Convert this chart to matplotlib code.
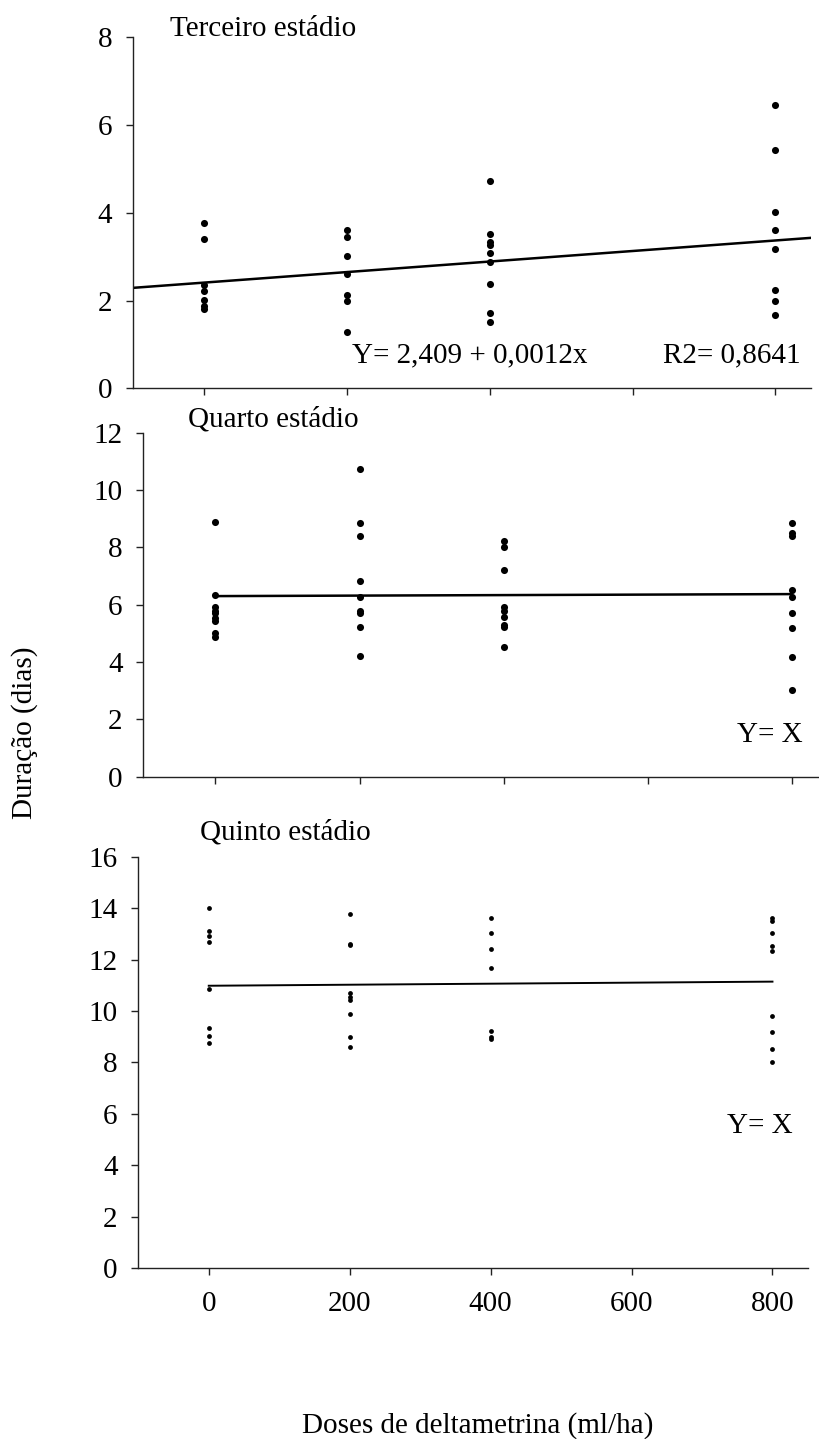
import matplotlib
matplotlib.use("Agg")
import matplotlib.pyplot as plt

plt.rcParams['font.family'] = ['Liberation Serif', 'DejaVu Serif']

# ---------------- data ----------------
doses = [0, 200, 400, 800]
x_ticks = [0, 200, 400, 600, 800]

terceiro = {
    0: [3.76, 3.41, 2.36, 2.22, 2.01, 1.88, 1.80],
    200: [3.61, 3.45, 3.01, 2.60, 2.12, 2.00, 1.28],
    400: [4.73, 3.51, 3.34, 3.27, 3.09, 2.89, 2.38, 1.71, 1.50],
    800: [6.45, 5.43, 4.01, 3.61, 3.18, 2.25, 2.00, 1.67],
}
terceiro_intercept = 2.409
terceiro_slope = 0.0012

quarto = {
    0: [8.88, 6.35, 5.91, 5.79, 5.72, 5.52, 5.44, 5.03, 4.88],
    200: [10.72, 8.84, 8.41, 6.84, 6.26, 5.79, 5.70, 5.22, 4.21],
    400: [8.22, 8.01, 7.21, 5.91, 5.79, 5.56, 5.28, 5.21, 4.51],
    800: [8.84, 8.51, 8.41, 6.51, 6.26, 5.71, 5.19, 4.19, 3.02],
}
quarto_line_x = [0, 800]
quarto_line_y = [6.30, 6.37]

quinto = {
    0: [14.02, 13.12, 12.91, 12.67, 10.84, 9.32, 9.02, 8.75],
    200: [13.78, 12.60, 12.55, 10.68, 10.53, 10.41, 9.89, 9.00, 8.61],
    400: [13.61, 13.02, 12.42, 11.66, 9.22, 9.00, 8.89],
    800: [13.60, 13.51, 13.02, 12.53, 12.34, 9.82, 9.17, 8.52, 8.01],
}
quinto_line_x = [0, 800]
quinto_line_y = [10.98, 11.14]

titles = ["Terceiro estádio", "Quarto estádio", "Quinto estádio"]
eq_text = "Y= 2,409 + 0,0012x"
r2_text = "R2= 0,8641"
yx_text = "Y= X"
ylabel = "Duração (dias)"
xlabel = "Doses de deltametrina (ml/ha)"

# ---------------- figure ----------------
W, H = 819, 1439
fig = plt.figure(figsize=(W / 100, H / 100), dpi=100)
FS = 21


def make_axes(l, r, t, b):
    return fig.add_axes([l / W, 1 - b / H, (r - l) / W, (b - t) / H])


def style(ax, ymax, show_xlabels):
    for s in ['top', 'right']:
        ax.spines[s].set_visible(False)
    for s in ['left', 'bottom']:
        ax.spines[s].set_linewidth(1.0)
        ax.spines[s].set_color('#222222')
    ax.set_xlim(-100, 850)
    ax.set_ylim(0, ymax)
    ax.set_xticks(x_ticks)
    ax.set_yticks(list(range(0, ymax + 1, 2)))
    ax.tick_params(axis='both', direction='out', length=4.8, width=1.0,
                   color='#222222', labelsize=FS)
    ax.tick_params(axis='y', pad=10)
    ax.tick_params(axis='x', pad=12)
    if not show_xlabels:
        ax.set_xticklabels([])
    ax.patch.set_visible(False)


def scatter_group(ax, groups, size):
    for d in doses:
        ys = groups[d]
        ax.scatter([d] * len(ys), ys, s=size, color='black', zorder=3,
                   linewidths=0, clip_on=False)


# Top panel
ax1 = make_axes(132.7, 811, 37.3, 388.3)
style(ax1, 8, False)
scatter_group(ax1, terceiro, 26)
xl = ax1.get_xlim()
ax1.plot(list(xl), [terceiro_intercept + terceiro_slope * v for v in xl],
         color='black', lw=1.8, zorder=2)
ax1.text(-48, 8.02, titles[0], fontsize=FS, ha='left', va='baseline', clip_on=False)
ax1.text(207, 0.58, eq_text, fontsize=FS, ha='left', va='baseline')
ax1.text(836, 0.58, r2_text, fontsize=FS, ha='right', va='baseline')

# Middle panel
ax2 = make_axes(143.3, 828, 432.7, 776.7)
style(ax2, 12, False)
scatter_group(ax2, quarto, 26)
ax2.plot(quarto_line_x, quarto_line_y, color='black', lw=1.8, zorder=2)
ax2.text(-38, 12.23, titles[1], fontsize=FS, ha='left', va='baseline', clip_on=False)
ax2.text(815, 1.2, yx_text, fontsize=FS, ha='right', va='baseline')

# Bottom panel
ax3 = make_axes(138.3, 807.7, 856.7, 1268)
style(ax3, 16, True)
scatter_group(ax3, quinto, 12)
ax3.plot(quinto_line_x, quinto_line_y, color='black', lw=1.4, zorder=2)
ax3.text(-13, 16.68, titles[2], fontsize=FS, ha='left', va='baseline', clip_on=False)
ax3.text(829, 5.24, yx_text, fontsize=FS, ha='right', va='baseline')

# Shared labels
fig.text(25 / W, 1 - 733 / H, ylabel, fontsize=FS, rotation=90,
         ha='center', va='center')
fig.text(478 / W, 1 - 1432.7 / H, xlabel, fontsize=FS, ha='center', va='baseline')

fig.savefig("out.png", dpi=100)
